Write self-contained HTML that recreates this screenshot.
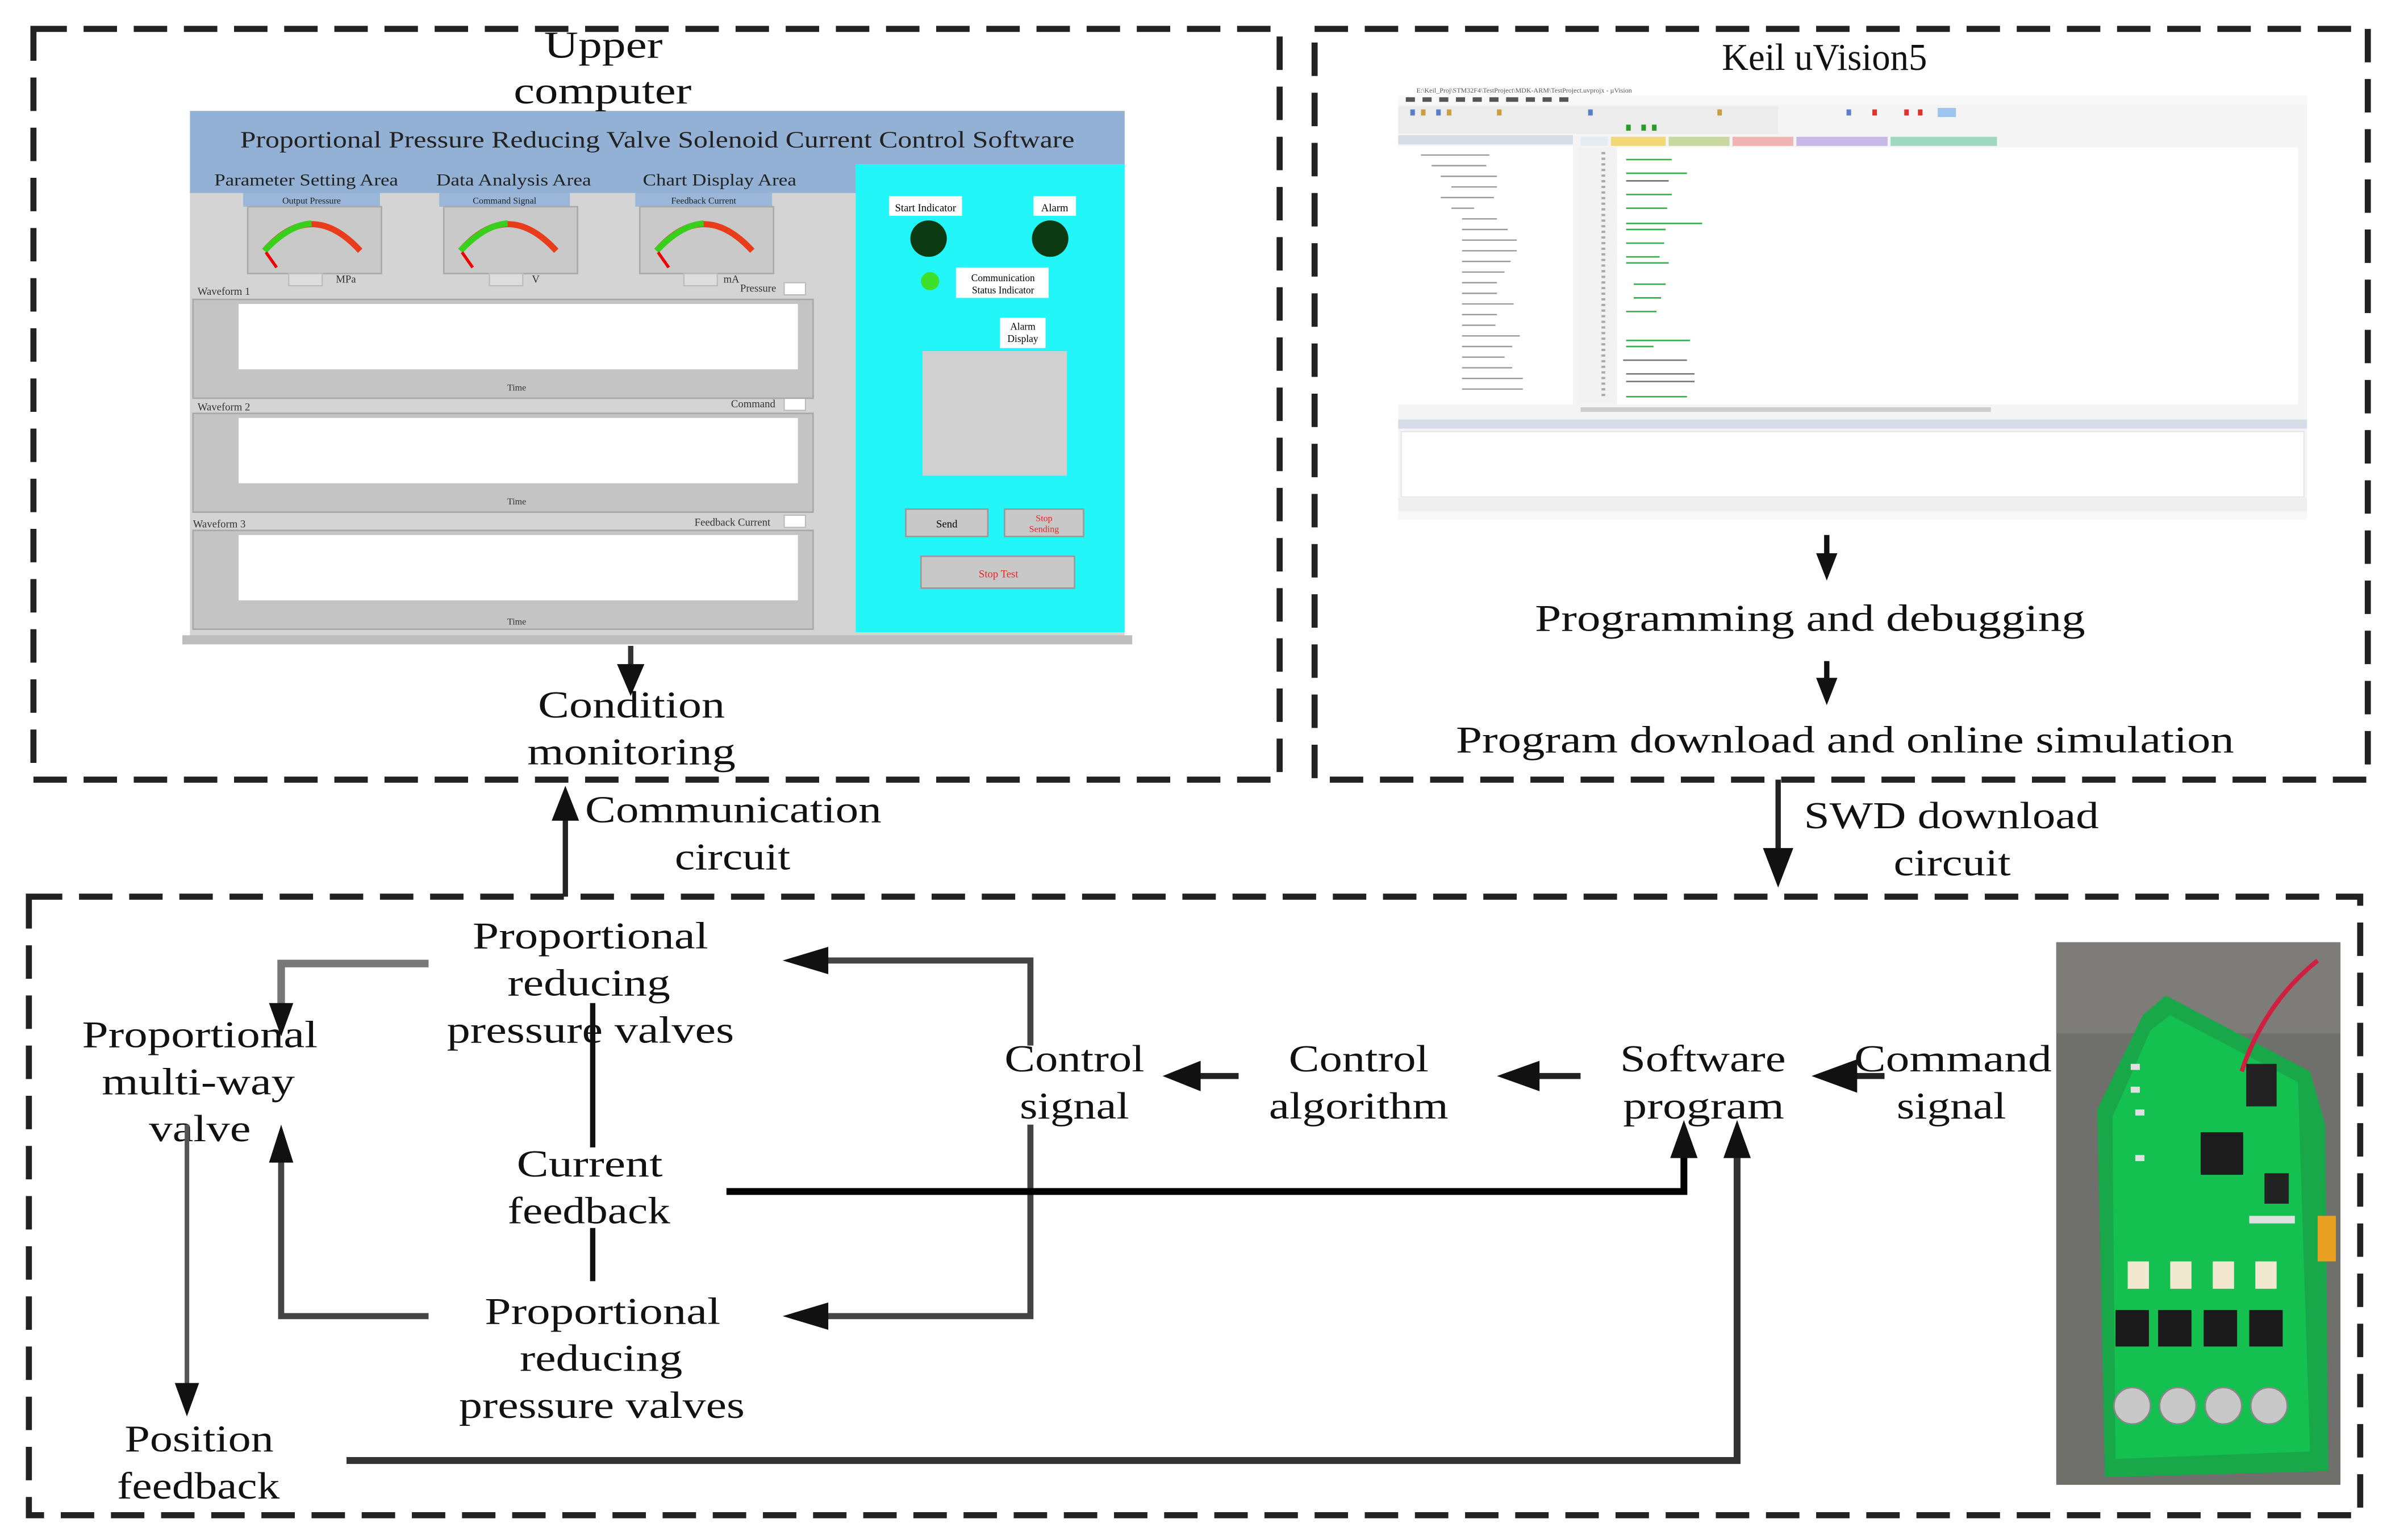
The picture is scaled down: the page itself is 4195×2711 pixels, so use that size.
<!DOCTYPE html>
<html><head><meta charset="utf-8"><style>
html,body{margin:0;padding:0;background:#fff;}
svg{display:block;}
text{font-family:"Liberation Serif",serif;}
</style></head><body>
<svg width="4195" height="2711" viewBox="0 0 1568 1013.3" xmlns="http://www.w3.org/2000/svg">
<rect x="0" y="0" width="1568" height="1014" fill="#fff"/>
<!-- dashed boxes -->
<g fill="none" stroke="#222" stroke-width="4" stroke-dasharray="22,11">
<rect x="22" y="19" width="820" height="494"/>
<rect x="865" y="19" width="693" height="494"/>
<rect x="19" y="590" width="1534" height="407"/>
</g>

<!-- Upper computer software screenshot -->
<g>
<rect x="125" y="73" width="615" height="350" fill="#d4d4d4"/>
<rect x="125" y="73" width="615" height="35" fill="#92b1d4"/>
<rect x="125" y="108" width="440" height="19" fill="#92b1d4"/>
<rect x="563" y="108" width="177" height="308" fill="#22f6f8"/>
<rect x="120" y="418" width="625" height="6" fill="#bdbdbd"/>
<text x="158" y="97" font-size="15.5" textLength="549" lengthAdjust="spacingAndGlyphs" fill="#222">Proportional Pressure Reducing Valve Solenoid Current Control Software</text>
<text x="141" y="122" font-size="11" textLength="121" lengthAdjust="spacingAndGlyphs" fill="#222">Parameter Setting Area</text>
<text x="287" y="122" font-size="11" textLength="102" lengthAdjust="spacingAndGlyphs" fill="#222">Data Analysis Area</text>
<text x="423" y="122" font-size="11" textLength="101" lengthAdjust="spacingAndGlyphs" fill="#222">Chart Display Area</text>
<g font-size="6" text-anchor="middle" fill="#222">
<rect x="160" y="127" width="90" height="9" fill="#9ab6d8"/><text x="205" y="134">Output Pressure</text>
<rect x="289" y="127" width="86" height="9" fill="#9ab6d8"/><text x="332" y="134">Command Signal</text>
<rect x="418" y="127" width="90" height="9" fill="#9ab6d8"/><text x="463" y="134">Feedback Current</text>
</g>
<g>
<rect x="163" y="136" width="88" height="44" fill="#c9c9c9" stroke="#aaa"/>
<rect x="292" y="136" width="88" height="44" fill="#c9c9c9" stroke="#aaa"/>
<rect x="421" y="136" width="88" height="44" fill="#c9c9c9" stroke="#aaa"/>
<g fill="none" stroke-width="4">
<path d="M174 165 Q205 130 237 165" stroke="#e83c1a"/>
<path d="M174 165 Q190 148 205 147" stroke="#39d01d"/>
<path d="M303 165 Q334 130 366 165" stroke="#e83c1a"/>
<path d="M303 165 Q319 148 334 147" stroke="#39d01d"/>
<path d="M432 165 Q463 130 495 165" stroke="#e83c1a"/>
<path d="M432 165 Q448 148 463 147" stroke="#39d01d"/>
</g>
<g stroke="#e00" stroke-width="2"><line x1="175" y1="166" x2="182" y2="176"/><line x1="304" y1="166" x2="311" y2="176"/><line x1="433" y1="166" x2="440" y2="176"/></g>
</g>
<g fill="#ddd" stroke="#bbb" stroke-width="0.8">
<rect x="190" y="180" width="22" height="8"/><rect x="322" y="180" width="22" height="8"/><rect x="450" y="180" width="22" height="8"/>
<rect x="516" y="186" width="14" height="8" fill="#fff"/><rect x="516" y="262" width="14" height="8" fill="#fff"/><rect x="516" y="339" width="14" height="8" fill="#fff"/>
</g>
<g font-size="7" fill="#333">
<text x="130" y="194">Waveform 1</text><text x="130" y="270">Waveform 2</text><text x="127" y="347">Waveform 3</text>
<text x="487" y="192">Pressure</text><text x="481" y="268">Command</text><text x="457" y="346">Feedback Current</text>
<text x="221" y="186">MPa</text><text x="350" y="186">V</text><text x="476" y="186">mA</text>
</g>
<g fill="#c4c4c4" stroke="#a8a8a8"><rect x="127" y="197" width="408" height="65"/><rect x="127" y="272" width="408" height="65"/><rect x="127" y="349" width="408" height="65"/></g>
<g fill="#fff"><rect x="157" y="200" width="368" height="43"/><rect x="157" y="275" width="368" height="43"/><rect x="157" y="352" width="368" height="43"/></g>
<g font-size="6" fill="#333" text-anchor="middle"><text x="340" y="257">Time</text><text x="340" y="332">Time</text><text x="340" y="411">Time</text></g>
<rect x="585" y="129" width="48" height="13" fill="#fff"/><text x="609" y="139" font-size="7" text-anchor="middle">Start Indicator</text>
<rect x="680" y="129" width="28" height="13" fill="#fff"/><text x="694" y="139" font-size="7" text-anchor="middle">Alarm</text>
<circle cx="611" cy="157" r="12" fill="#0c3a12"/><circle cx="691" cy="157" r="12" fill="#0c3a12"/>
<circle cx="612" cy="185" r="6" fill="#3ee02c"/>
<rect x="629" y="176" width="61" height="20" fill="#fff"/><text x="660" y="185" font-size="6.5" text-anchor="middle">Communication</text><text x="660" y="193" font-size="6.5" text-anchor="middle">Status Indicator</text>
<rect x="658" y="209" width="30" height="20" fill="#fff"/><text x="673" y="217" font-size="6.5" text-anchor="middle">Alarm</text><text x="673" y="225" font-size="6.5" text-anchor="middle">Display</text>
<rect x="607" y="231" width="95" height="82" fill="#d0d0d0"/>
<rect x="596" y="335" width="54" height="18" fill="#c8c8c8" stroke="#999"/><text x="623" y="347" font-size="7" text-anchor="middle">Send</text>
<rect x="661" y="335" width="52" height="18" fill="#c8c8c8" stroke="#999"/><text x="687" y="343" font-size="6" fill="#e22" text-anchor="middle">Stop</text><text x="687" y="350" font-size="6" fill="#e22" text-anchor="middle">Sending</text>
<rect x="606" y="366" width="101" height="21" fill="#c8c8c8" stroke="#999"/><text x="657" y="380" font-size="7" fill="#e22" text-anchor="middle">Stop Test</text>
</g>

<!-- Keil screenshot -->
<g>
<rect x="920" y="55" width="598" height="287" fill="#f4f4f4"/>
<rect x="920" y="55" width="598" height="8" fill="#fff"/>
<text x="932" y="61" font-size="4.5" fill="#555">E:\Keil_Proj\STM32F4\TestProject\MDK-ARM\TestProject.uvprojx - µVision</text>
<rect x="920" y="63" width="598" height="6" fill="#f8f8f8"/>
<g fill="#555"><rect x="925" y="64" width="6" height="3"/><rect x="936" y="64" width="6" height="3"/><rect x="947" y="64" width="6" height="3"/><rect x="958" y="64" width="6" height="3"/><rect x="969" y="64" width="6" height="3"/><rect x="980" y="64" width="6" height="3"/><rect x="991" y="64" width="8" height="3"/><rect x="1004" y="64" width="6" height="3"/><rect x="1015" y="64" width="6" height="3"/><rect x="1026" y="64" width="6" height="3"/></g>
<rect x="920" y="70" width="250" height="18" fill="#ececec"/>
<g fill="#5a7fc9"><rect x="928" y="72" width="3" height="4"/><rect x="945" y="72" width="3" height="4"/><rect x="1045" y="72" width="3" height="4"/><rect x="1215" y="72" width="3" height="4"/><rect x="1275" y="71" width="12" height="6" fill="#9cc4ee"/></g>
<g fill="#c9a040"><rect x="935" y="72" width="3" height="4"/><rect x="952" y="72" width="3" height="4"/><rect x="985" y="72" width="3" height="4"/><rect x="1130" y="72" width="3" height="4"/></g>
<g fill="#e03030"><rect x="1232" y="72" width="3" height="4"/><rect x="1253" y="72" width="3" height="4"/><rect x="1262" y="72" width="3" height="4"/></g>
<g fill="#2a9a2a"><rect x="1070" y="82" width="3" height="4"/><rect x="1080" y="82" width="3" height="4"/><rect x="1087" y="82" width="3" height="4"/></g>
<rect x="920" y="89" width="115" height="6" fill="#d6dce6"/>
<rect x="1040" y="90" width="18" height="6" fill="#e6ecf4"/>
<rect x="1060" y="90" width="36" height="6" fill="#f2d877"/>
<rect x="1098" y="90" width="40" height="6" fill="#c8d8a0"/>
<rect x="1140" y="90" width="40" height="6" fill="#f0b4b4"/>
<rect x="1182" y="90" width="60" height="6" fill="#c8b8ea"/>
<rect x="1244" y="90" width="70" height="6" fill="#9ed8c2"/>
<rect x="920" y="96" width="115" height="170" fill="#fff"/>
<rect x="1038" y="97" width="474" height="169" fill="#fff"/>
<rect x="1038" y="97" width="26" height="169" fill="#f2f2f2"/>
<g stroke="#999" stroke-width="0.9">
<line x1="935" y1="102" x2="980" y2="102"/><line x1="942" y1="109" x2="978" y2="109"/><line x1="948" y1="116" x2="985" y2="116"/><line x1="955" y1="123" x2="985" y2="123"/><line x1="948" y1="130" x2="983" y2="130"/><line x1="955" y1="137" x2="970" y2="137"/>
<line x1="962" y1="144" x2="985" y2="144"/><line x1="962" y1="151" x2="992" y2="151"/><line x1="962" y1="158" x2="998" y2="158"/><line x1="962" y1="165" x2="998" y2="165"/><line x1="962" y1="172" x2="994" y2="172"/><line x1="962" y1="179" x2="990" y2="179"/><line x1="962" y1="186" x2="985" y2="186"/><line x1="962" y1="193" x2="985" y2="193"/><line x1="962" y1="200" x2="996" y2="200"/><line x1="962" y1="207" x2="985" y2="207"/><line x1="962" y1="214" x2="984" y2="214"/><line x1="962" y1="221" x2="1000" y2="221"/><line x1="962" y1="228" x2="995" y2="228"/><line x1="962" y1="235" x2="990" y2="235"/><line x1="962" y1="242" x2="995" y2="242"/><line x1="962" y1="249" x2="1002" y2="249"/><line x1="962" y1="256" x2="1002" y2="256"/>
</g>
<g stroke="#aaa" stroke-width="0.7"><line x1="1055" y1="100" x2="1055" y2="262" stroke-dasharray="1.5,2.2" stroke-width="2.5"/></g>
<g stroke="#36b04a" stroke-width="1">
<line x1="1070" y1="105" x2="1100" y2="105"/><line x1="1070" y1="114" x2="1110" y2="114"/><line x1="1070" y1="128" x2="1100" y2="128"/><line x1="1070" y1="137" x2="1097" y2="137"/><line x1="1070" y1="147" x2="1120" y2="147"/><line x1="1070" y1="151" x2="1096" y2="151"/><line x1="1070" y1="160" x2="1095" y2="160"/><line x1="1070" y1="169" x2="1092" y2="169"/><line x1="1070" y1="173" x2="1098" y2="173"/><line x1="1075" y1="187" x2="1096" y2="187"/><line x1="1075" y1="196" x2="1093" y2="196"/><line x1="1070" y1="205" x2="1090" y2="205"/><line x1="1070" y1="224" x2="1112" y2="224"/><line x1="1070" y1="228" x2="1088" y2="228"/><line x1="1070" y1="261" x2="1110" y2="261"/>
</g>
<g stroke="#777" stroke-width="1"><line x1="1070" y1="119" x2="1098" y2="119"/><line x1="1068" y1="237" x2="1110" y2="237"/><line x1="1070" y1="246" x2="1115" y2="246"/><line x1="1070" y1="251" x2="1115" y2="251"/></g>
<rect x="1040" y="268" width="270" height="3" fill="#ccc"/>
<rect x="920" y="276" width="598" height="6" fill="#d6dce6"/>
<rect x="922" y="284" width="594" height="43" fill="#fff" stroke="#ddd" stroke-width="0.5"/>
<rect x="920" y="328" width="598" height="8" fill="#eee"/>
<rect x="920" y="337" width="598" height="5" fill="#f8f8f8"/>
</g>

<!-- text -->
<g font-size="25" fill="#111" lengthAdjust="spacingAndGlyphs">
<text x="358" y="38" textLength="78" lengthAdjust="spacingAndGlyphs">Upper</text>
<text x="338" y="68" textLength="117" lengthAdjust="spacingAndGlyphs">computer</text>
<text x="354" y="472" textLength="123" lengthAdjust="spacingAndGlyphs">Condition</text>
<text x="347" y="503" textLength="137" lengthAdjust="spacingAndGlyphs">monitoring</text>
<text x="1133" y="46" textLength="135" lengthAdjust="spacingAndGlyphs">Keil uVision5</text>
<text x="1010" y="415" textLength="362" lengthAdjust="spacingAndGlyphs">Programming and debugging</text>
<text x="958" y="495" textLength="512" lengthAdjust="spacingAndGlyphs">Program download and online simulation</text>
<text x="385" y="541" textLength="195" lengthAdjust="spacingAndGlyphs">Communication</text>
<text x="444" y="572" textLength="76" lengthAdjust="spacingAndGlyphs">circuit</text>
<text x="1187" y="545" textLength="194" lengthAdjust="spacingAndGlyphs">SWD download</text>
<text x="1246" y="576" textLength="77" lengthAdjust="spacingAndGlyphs">circuit</text>
<text x="311" y="624" textLength="155" lengthAdjust="spacingAndGlyphs">Proportional</text>
<text x="334" y="655" textLength="107" lengthAdjust="spacingAndGlyphs">reducing</text>
<text x="294" y="686" textLength="189" lengthAdjust="spacingAndGlyphs">pressure valves</text>
<text x="54" y="689" textLength="155" lengthAdjust="spacingAndGlyphs">Proportional</text>
<text x="67" y="720" textLength="127" lengthAdjust="spacingAndGlyphs">multi-way</text>
<text x="98" y="751" textLength="67" lengthAdjust="spacingAndGlyphs">valve</text>
<text x="661" y="705" textLength="92" lengthAdjust="spacingAndGlyphs">Control</text>
<text x="671" y="736" textLength="72" lengthAdjust="spacingAndGlyphs">signal</text>
<text x="848" y="705" textLength="92" lengthAdjust="spacingAndGlyphs">Control</text>
<text x="835" y="736" textLength="118" lengthAdjust="spacingAndGlyphs">algorithm</text>
<text x="1066" y="705" textLength="109" lengthAdjust="spacingAndGlyphs">Software</text>
<text x="1068" y="736" textLength="106" lengthAdjust="spacingAndGlyphs">program</text>
<text x="1220" y="705" textLength="130" lengthAdjust="spacingAndGlyphs">Command</text>
<text x="1248" y="736" textLength="72" lengthAdjust="spacingAndGlyphs">signal</text>
<text x="340" y="774" textLength="96" lengthAdjust="spacingAndGlyphs">Current</text>
<text x="334" y="805" textLength="107" lengthAdjust="spacingAndGlyphs">feedback</text>
<text x="319" y="871" textLength="155" lengthAdjust="spacingAndGlyphs">Proportional</text>
<text x="342" y="902" textLength="107" lengthAdjust="spacingAndGlyphs">reducing</text>
<text x="302" y="933" textLength="188" lengthAdjust="spacingAndGlyphs">pressure valves</text>
<text x="82" y="955" textLength="98" lengthAdjust="spacingAndGlyphs">Position</text>
<text x="77" y="986" textLength="107" lengthAdjust="spacingAndGlyphs">feedback</text>
</g>

<!-- connectors -->
<g fill="none" stroke-width="3.5">
<path d="M415 425 V445" stroke="#333"/>
<path d="M1202 352 V370" stroke="#111"/>
<path d="M1202 435 V452" stroke="#111"/>
<path d="M372 590 V532" stroke="#222"/>
<path d="M1170 513 V565" stroke="#222"/>
<path d="M282 634 H185 V662" stroke="#777" stroke-width="5"/>
<path d="M390 660 V755 M390 808 V843" stroke="#111"/>
<path d="M540 632 H678 V688 M678 740 V866 H540" stroke="#444" stroke-width="4"/>
<path d="M282 866 H185 V762" stroke="#444" stroke-width="4"/>
<path d="M123 740 V912" stroke="#555" stroke-width="3"/>
<path d="M478 784 H1108 V760" stroke="#000" stroke-width="4.5"/>
<path d="M228 961 H1143 V760" stroke="#333" stroke-width="4.5"/>
<path d="M815 708 H785 M1040 708 H1005 M1240 708 H1212" stroke="#222" stroke-width="4"/>
</g>
<g fill="#111">
<polygon points="406,437 424,437 415,458"/>
<polygon points="1195,364 1209,364 1202,382"/>
<polygon points="1195,446 1209,446 1202,464"/>
<polygon points="363,540 381,540 372,517"/>
<polygon points="1160,558 1180,558 1170,584"/>
<polygon points="177,660 193,660 185,682"/>
<polygon points="545,623 545,641 515,632"/>
<polygon points="545,857 545,875 515,866"/>
<polygon points="177,765 193,765 185,740"/>
<polygon points="115,910 131,910 123,932"/>
<polygon points="1099,762 1117,762 1108,737"/>
<polygon points="1134,762 1152,762 1143,737"/>
<polygon points="790,698 790,718 765,708"/>
<polygon points="1013,698 1013,718 985,708"/>
<polygon points="1222,697 1222,719 1192,708"/>
</g>

<!-- PCB photo -->
<g>
<rect x="1353" y="620" width="187" height="357" fill="#6f6f6c"/>
<rect x="1353" y="620" width="187" height="60" fill="#7d7c79"/>
<path d="M1410 668 L1425 655 L1520 705 L1530 740 L1532 968 L1385 972 L1380 730 Z" fill="#18a84a"/>
<path d="M1415 678 L1428 668 L1512 712 L1520 955 L1392 960 L1390 735 Z" fill="#14c050"/>
<path d="M1475 705 Q1490 660 1525 632" stroke="#d02040" stroke-width="3" fill="none"/>
<rect x="1478" y="700" width="20" height="28" fill="#222"/>
<rect x="1448" y="745" width="28" height="28" fill="#1c1c1c"/>
<rect x="1490" y="772" width="16" height="20" fill="#222"/>
<g fill="#f2e8d0"><rect x="1400" y="830" width="14" height="18"/><rect x="1428" y="830" width="14" height="18"/><rect x="1456" y="830" width="14" height="18"/><rect x="1484" y="830" width="14" height="18"/></g>
<g fill="#1a1a1a"><rect x="1392" y="862" width="22" height="24"/><rect x="1420" y="862" width="22" height="24"/><rect x="1450" y="862" width="22" height="24"/><rect x="1480" y="862" width="22" height="24"/></g>
<g fill="#c8c8c8" stroke="#888"><circle cx="1403" cy="925" r="12"/><circle cx="1433" cy="925" r="12"/><circle cx="1463" cy="925" r="12"/><circle cx="1493" cy="925" r="12"/></g>
<rect x="1525" y="800" width="12" height="30" fill="#e8a020"/>
<g fill="#e0e0e0"><rect x="1402" y="700" width="6" height="4"/><rect x="1402" y="715" width="6" height="4"/><rect x="1405" y="730" width="6" height="4"/><rect x="1405" y="760" width="6" height="4"/><rect x="1480" y="800" width="30" height="5"/></g>
</g>
</svg>
</body></html>
